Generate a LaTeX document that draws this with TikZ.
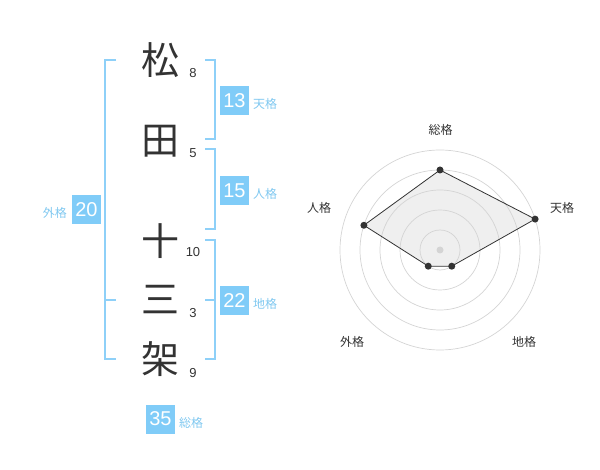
\documentclass[tikz,border=0pt]{standalone}
\usepackage{fontspec}
\usetikzlibrary{calc}
\setmainfont{Liberation Sans}
\newfontfamily\cjk{Noto Sans CJK JP}
\definecolor{brk}{HTML}{8ED0F8}
\definecolor{boxc}{HTML}{80CCF8}
\definecolor{lbl}{HTML}{80C8F0}
\definecolor{ink}{HTML}{333333}
\definecolor{ring}{HTML}{D4D4D4}
\definecolor{areafill}{HTML}{EFEFEF}
\tikzset{
  kanji/.style={font=\cjk\fontsize{38}{38}\selectfont, text=ink, inner sep=0pt},
  strokes/.style={font=\fontsize{13}{13}\selectfont, text=ink, inner sep=0pt},
  numbox/.style={fill=boxc, text=white, minimum width=29pt, minimum height=29pt, inner sep=0pt, font=\fontsize{20}{20}\selectfont},
  kaku/.style={font=\cjk\fontsize{12}{12}\selectfont, text=lbl, inner sep=0pt, anchor=west},
  bracket/.style={draw=brk, line width=2pt},
  axislbl/.style={font=\cjk\fontsize{12}{12}\selectfont, text=ink, inner sep=0pt},
  ringc/.style={draw=ring, line width=0.7pt},
  dot/.style={circle, fill=ink, inner sep=0pt, minimum size=7pt},
}
\begin{document}
\begin{tikzpicture}[x=1pt,y=-1pt]
\useasboundingbox (0,0) rectangle (600,470);
% characters
\node[kanji] (k1) at (160,60) {松};
\node[kanji] (k2) at (160,141) {田};
\node[kanji] (k3) at (160,241) {十};
\node[kanji] (k4) at (160,300) {三};
\node[kanji] (k5) at (160,359) {架};
\node[strokes] (s1) at (193,73) {8};
\node[strokes] (s2) at (193,153) {5};
\node[strokes] (s3) at (193,252) {10};
\node[strokes] (s4) at (193,313) {3};
\node[strokes] (s5) at (193,373) {9};
% brackets
\draw[bracket] (116,60) -- (104.5,60) -- (104.5,359.5) -- (116,359.5);
\draw[bracket] (104.5,300) -- (116,300);
\draw[bracket] (205,60) -- (214.5,60) -- (214.5,139.5) -- (205,139.5);
\draw[bracket] (205,149.5) -- (214.5,149.5) -- (214.5,229.5) -- (205,229.5);
\draw[bracket] (205,240) -- (214.5,240) -- (214.5,359.5) -- (205,359.5);
\draw[bracket] (205,300) -- (214.5,300);
% number boxes
\node[numbox] (b13) at (234.5,100.5) {13};
\node[kaku] (l13) at (253,104) {天格};
\node[numbox] (b15) at (234.5,190.5) {15};
\node[kaku] (l15) at (253,194) {人格};
\node[numbox] (b22) at (234.5,300.5) {22};
\node[kaku] (l22) at (253,304) {地格};
\node[numbox] (b20) at (86.5,210) {20};
\node[kaku, anchor=east] (l20) at (67,213) {外格};
\node[numbox] (b35) at (160.5,419) {35};
\node[kaku] (l35) at (179,423) {総格};
% radar
\coordinate (c) at (440,250);
\coordinate (p1) at ($(c)+(-90:80)$);
\coordinate (p2) at ($(c)+(-18:100)$);
\coordinate (p3) at ($(c)+(54:20)$);
\coordinate (p4) at ($(c)+(126:20)$);
\coordinate (p5) at ($(c)+(-162:80)$);
\fill[areafill] (p1) -- (p2) -- (p3) -- (p4) -- (p5) -- cycle;
\foreach \r in {20,40,60,80,100} \draw[ringc] (c) circle[radius=\r];
\draw[ink, line width=0.8pt] (p1) -- (p2) -- (p3) -- (p4) -- (p5) -- cycle;
\node[circle, fill=ring, inner sep=0pt, minimum size=7pt] (cd) at (c) {};
\foreach \p in {p1,p2,p3,p4,p5} \node[dot] at (\p) {};
\node[axislbl] (a1) at (440.5,130) {総格};
\node[axislbl] (a2) at (562,208) {天格};
\node[axislbl] (a3) at (524,342) {地格};
\node[axislbl] (a4) at (352,342) {外格};
\node[axislbl] (a5) at (319,208) {人格};
\end{tikzpicture}
\end{document}
